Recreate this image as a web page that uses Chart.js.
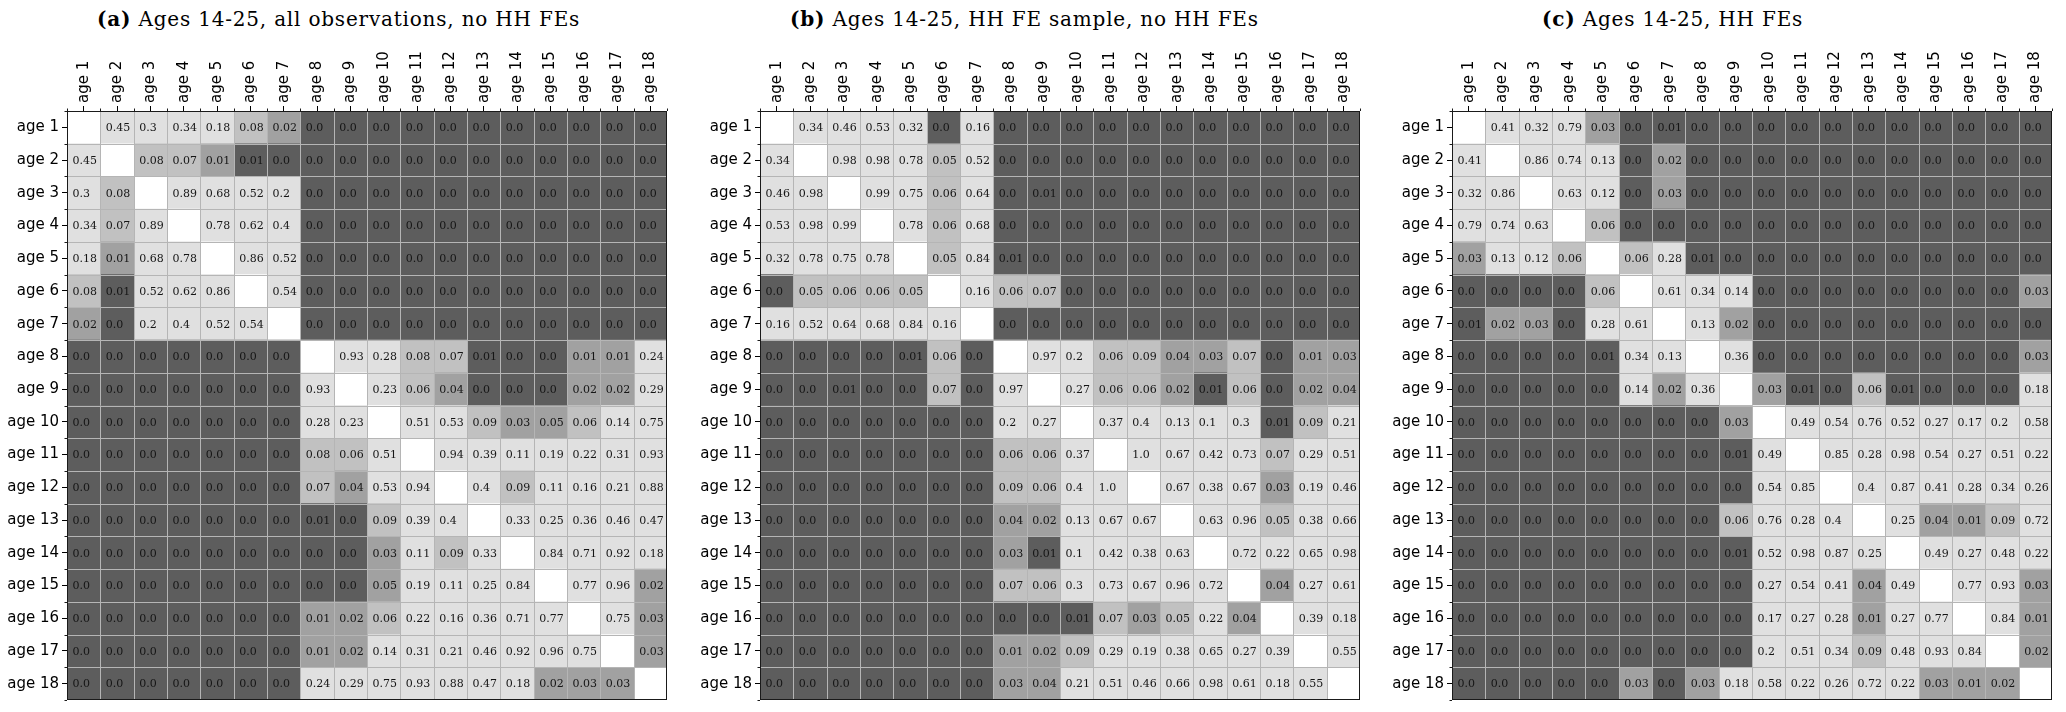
<!DOCTYPE html>
<html>
<head>
<meta charset="utf-8">
<script src="https://cdn.jsdelivr.net/npm/chart.js@4.4.1/dist/chart.umd.min.js"></script>
<style>
  html, body { margin: 0; padding: 0; background: #ffffff; }
  #wrap { position: relative; width: 2066px; height: 712px; overflow: hidden; background: #ffffff; }
  .panel { position: absolute; top: 0; width: 671px; height: 712px; }
  .title {
    position: absolute; top: 9px; white-space: nowrap;
    font-family: "DejaVu Serif", serif; font-size: 20px; line-height: 20px;
    letter-spacing: 0.8px; color: #000;
  }
  .title b { font-weight: bold; }
</style>
</head>
<body>
<div id="wrap">
  <div class="title" id="title0" style="left:97px"></div>
  <div class="title" id="title1" style="left:790px"></div>
  <div class="title" id="title2" style="left:1542px"></div>
  <div class="panel" style="left:0px"><canvas id="panel0" width="671" height="712"></canvas></div>
  <div class="panel" style="left:693px"><canvas id="panel1" width="671" height="712"></canvas></div>
  <div class="panel" style="left:1385px"><canvas id="panel2" width="671" height="712"></canvas></div>
</div>
<script>
// Age categories (rows and columns of every matrix)
const ages = ['age 1', 'age 2', 'age 3', 'age 4', 'age 5', 'age 6', 'age 7', 'age 8', 'age 9',
              'age 10', 'age 11', 'age 12', 'age 13', 'age 14', 'age 15', 'age 16', 'age 17', 'age 18'];

// Panel tags and titles
const panelTags = ['(a)', '(b)', '(c)'];
const panelTitles = [
  'Ages 14-25, all observations, no HH FEs',
  'Ages 14-25, HH FE sample, no HH FEs',
  'Ages 14-25, HH FEs'
];

// Pairwise p-values, lower triangle: row i holds columns 1..i-1 (the matrices are symmetric)
const pAllObs = [
  [],
  [0.45],
  [0.3, 0.08],
  [0.34, 0.07, 0.89],
  [0.18, 0.012, 0.68, 0.78],
  [0.08, 0.008, 0.52, 0.62, 0.86],
  [0.02, 0, 0.2, 0.4, 0.52, 0.54],
  [0, 0, 0, 0, 0, 0, 0],
  [0, 0, 0, 0, 0, 0, 0, 0.93],
  [0, 0, 0, 0, 0, 0, 0, 0.28, 0.23],
  [0, 0, 0, 0, 0, 0, 0, 0.08, 0.06, 0.51],
  [0, 0, 0, 0, 0, 0, 0, 0.07, 0.04, 0.53, 0.94],
  [0, 0, 0, 0, 0, 0, 0, 0.008, 0, 0.09, 0.39, 0.4],
  [0, 0, 0, 0, 0, 0, 0, 0, 0, 0.03, 0.11, 0.09, 0.33],
  [0, 0, 0, 0, 0, 0, 0, 0, 0, 0.048, 0.19, 0.11, 0.25, 0.84],
  [0, 0, 0, 0, 0, 0, 0, 0.012, 0.02, 0.06, 0.22, 0.16, 0.36, 0.71, 0.77],
  [0, 0, 0, 0, 0, 0, 0, 0.012, 0.02, 0.14, 0.31, 0.21, 0.46, 0.92, 0.96, 0.75],
  [0, 0, 0, 0, 0, 0, 0, 0.24, 0.29, 0.75, 0.93, 0.88, 0.47, 0.18, 0.02, 0.03, 0.03]
];

const pFeSample = [
  [],
  [0.34],
  [0.46, 0.98],
  [0.53, 0.98, 0.99],
  [0.32, 0.78, 0.75, 0.78],
  [0, 0.052, 0.06, 0.06, 0.052],
  [0.16, 0.52, 0.64, 0.68, 0.84, 0.16],
  [0, 0, 0, 0, 0.008, 0.06, 0],
  [0, 0, 0.008, 0, 0, 0.07, 0, 0.97],
  [0, 0, 0, 0, 0, 0, 0, 0.2, 0.27],
  [0, 0, 0, 0, 0, 0, 0, 0.06, 0.06, 0.37],
  [0, 0, 0, 0, 0, 0, 0, 0.09, 0.06, 0.4, 1.0],
  [0, 0, 0, 0, 0, 0, 0, 0.04, 0.02, 0.13, 0.67, 0.67],
  [0, 0, 0, 0, 0, 0, 0, 0.03, 0.008, 0.1, 0.42, 0.38, 0.63],
  [0, 0, 0, 0, 0, 0, 0, 0.07, 0.06, 0.3, 0.73, 0.67, 0.96, 0.72],
  [0, 0, 0, 0, 0, 0, 0, 0, 0, 0.008, 0.07, 0.03, 0.052, 0.22, 0.04],
  [0, 0, 0, 0, 0, 0, 0, 0.012, 0.02, 0.09, 0.29, 0.19, 0.38, 0.65, 0.27, 0.39],
  [0, 0, 0, 0, 0, 0, 0, 0.03, 0.04, 0.21, 0.51, 0.46, 0.66, 0.98, 0.61, 0.18, 0.55]
];

const pHhFe = [
  [],
  [0.41],
  [0.32, 0.86],
  [0.79, 0.74, 0.63],
  [0.03, 0.13, 0.12, 0.06],
  [0, 0, 0, 0, 0.06],
  [0.008, 0.02, 0.03, 0, 0.28, 0.61],
  [0, 0, 0, 0, 0.008, 0.34, 0.13],
  [0, 0, 0, 0, 0, 0.14, 0.02, 0.36],
  [0, 0, 0, 0, 0, 0, 0, 0, 0.03],
  [0, 0, 0, 0, 0, 0, 0, 0, 0.008, 0.49],
  [0, 0, 0, 0, 0, 0, 0, 0, 0, 0.54, 0.85],
  [0, 0, 0, 0, 0, 0, 0, 0, 0.06, 0.76, 0.28, 0.4],
  [0, 0, 0, 0, 0, 0, 0, 0, 0.008, 0.52, 0.98, 0.87, 0.25],
  [0, 0, 0, 0, 0, 0, 0, 0, 0, 0.27, 0.54, 0.41, 0.04, 0.49],
  [0, 0, 0, 0, 0, 0, 0, 0, 0, 0.17, 0.27, 0.28, 0.012, 0.27, 0.77],
  [0, 0, 0, 0, 0, 0, 0, 0, 0, 0.2, 0.51, 0.34, 0.09, 0.48, 0.93, 0.84],
  [0, 0, 0, 0, 0, 0.03, 0, 0.03, 0.18, 0.58, 0.22, 0.26, 0.72, 0.22, 0.03, 0.012, 0.02]
];

const panelData = [pAllObs, pFeSample, pHhFe];

// Grey level by significance band; diagonal stays blank
function shade(v) {
  if (v === null) return '#ffffff';
  if (v < 0.01) return '#5d5d5d';
  if (v < 0.05) return '#a1a1a1';
  if (v < 0.1) return '#c1c1c1';
  return '#e0e0e0';
}

// Two-decimal label in the short form (0.0, 0.3, 0.45, 1.0)
function fmt(v) {
  const s = String(Math.round(v * 100) / 100);
  return s.includes('.') ? s : s + '.0';
}

const serifFont = "'DejaVu Serif', serif";
const sansFont = "'DejaVu Sans', sans-serif";
const tickFontSize = 15;

// Cell separators, value labels, frame and minor ticks
const cellDecor = {
  id: 'cellDecor',
  afterDatasetsDraw(chart) {
    const { ctx, chartArea: a } = chart;
    const x = chart.scales.x, y = chart.scales.y;
    const n = ages.length;
    ctx.save();
    ctx.strokeStyle = '#b5b5b5';
    ctx.lineWidth = 1;
    ctx.beginPath();
    for (let k = 1; k < n; k++) {
      const px = Math.round(x.getPixelForValue(k)) + 0.5;
      ctx.moveTo(px, a.top); ctx.lineTo(px, a.bottom);
      const py = Math.round(y.getPixelForValue(k - 0.5)) + 0.5;
      ctx.moveTo(a.left, py); ctx.lineTo(a.right, py);
    }
    ctx.stroke();

    ctx.fillStyle = '#151515';
    ctx.font = '11px ' + serifFont;
    ctx.textAlign = 'left';
    ctx.textBaseline = 'middle';
    chart.data.datasets.forEach((ds, j) => {
      ds.pValues.forEach((v, i) => {
        if (v === null) return;
        ctx.fillText(fmt(v), x.getPixelForValue(j) + 5.5, y.getPixelForValue(i) + 1);
      });
    });

    // axes frame
    ctx.strokeStyle = '#1a1a1a';
    ctx.lineWidth = 1;
    ctx.strokeRect(a.left + 0.5, a.top + 0.5, a.width - 1, a.height - 1);

    // minor ticks on cell boundaries
    ctx.beginPath();
    for (let k = 0; k <= n; k++) {
      const px = Math.round(x.getPixelForValue(k)) + 0.5;
      ctx.moveTo(px, a.top); ctx.lineTo(px, a.top - 2.5);
      const py = Math.round(y.getPixelForValue(k - 0.5)) + 0.5;
      ctx.moveTo(a.left, py); ctx.lineTo(a.left - 2.5, py);
    }
    ctx.stroke();
    ctx.restore();
  }
};

function buildPanel(canvasId, lower) {
  const n = ages.length;
  const valueAt = (i, j) => (i === j ? null : (i > j ? lower[i][j] : lower[j][i]));
  const datasets = [];
  for (let j = 0; j < n; j++) {
    const vals = ages.map((_, i) => valueAt(i, j));
    datasets.push({
      label: ages[j],
      data: vals.map(() => [j, j + 1]),
      pValues: vals,
      backgroundColor: vals.map(shade),
      borderWidth: 0,
      grouped: false,
      barPercentage: 1,
      categoryPercentage: 1
    });
  }
  return new Chart(document.getElementById(canvasId), {
    type: 'bar',
    data: { labels: ages, datasets },
    options: {
      indexAxis: 'y',
      responsive: false,
      animation: false,
      devicePixelRatio: 1,
      layout: { padding: { top: 0, left: 0, right: 4, bottom: 1 } },
      plugins: { legend: { display: false }, tooltip: { enabled: false }, title: { display: false } },
      scales: {
        x: { type: 'linear', min: 0, max: n, display: false },
        xTop: {
          type: 'category', labels: ages, position: 'top', offset: true,
          grid: { offset: false, drawOnChartArea: false, drawTicks: true, tickLength: 5,
                  color: '#000', tickColor: '#000', lineWidth: 1 },
          border: { display: false },
          ticks: { minRotation: 90, maxRotation: 90, autoSkip: false, padding: 3, color: '#000',
                   labelOffset: tickFontSize * 1.2,
                   font: { family: sansFont, size: tickFontSize } },
          afterFit(s) { s.height = 111; }
        },
        y: {
          type: 'category', offset: true,
          grid: { offset: false, drawOnChartArea: false, drawTicks: true, tickLength: 5,
                  color: '#000', tickColor: '#000', lineWidth: 1 },
          border: { display: false },
          ticks: { autoSkip: false, padding: 3, color: '#000', font: { family: sansFont, size: tickFontSize } },
          afterFit(s) { s.width = 67; }
        }
      }
    },
    plugins: [cellDecor]
  });
}

panelData.forEach((lower, k) => {
  const t = document.getElementById('title' + k);
  const b = document.createElement('b');
  b.textContent = panelTags[k];
  t.appendChild(b);
  t.appendChild(document.createTextNode(' ' + panelTitles[k]));
  buildPanel('panel' + k, lower);
});
</script>
</body>
</html>
